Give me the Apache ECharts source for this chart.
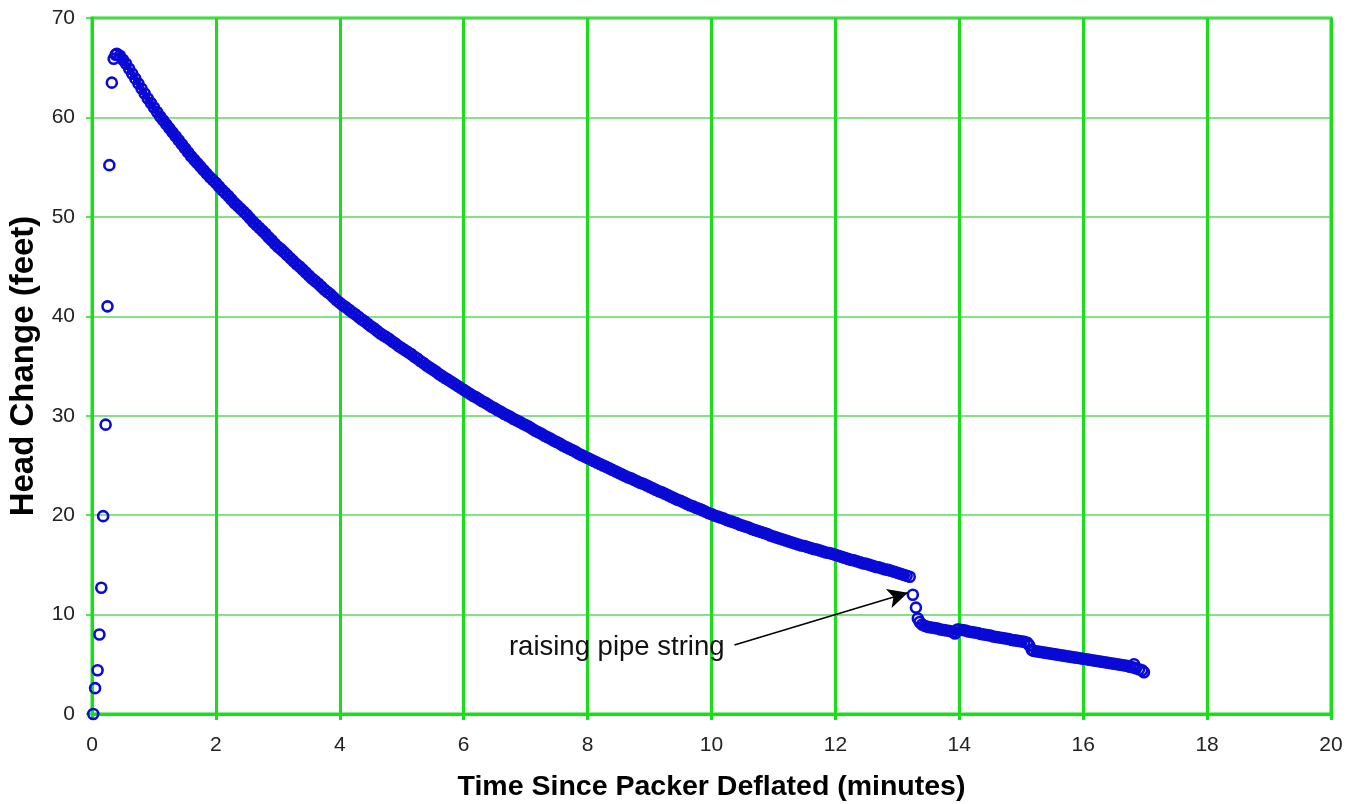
<!DOCTYPE html>
<html>
<head>
<meta charset="utf-8">
<script src="https://cdn.jsdelivr.net/npm/echarts@6/dist/echarts.min.js"></script>
<style>
html,body{margin:0;padding:0;background:#fff;}
#chart{width:1350px;height:804px;}
</style>
</head>
<body>
<div id="chart"></div>
<script>
// ---- Data ----
const xTicks = [0, 2, 4, 6, 8, 10, 12, 14, 16, 18, 20];
const yTicks = [0, 10, 20, 30, 40, 50, 60, 70];

// Rise after packer deflated
const riseTime = [0.02, 0.05, 0.09, 0.12, 0.15, 0.18, 0.22, 0.25, 0.28, 0.32, 0.35, 0.38];
const riseHead = [0.0, 2.6, 4.4, 8.0, 12.7, 19.9, 29.1, 41.0, 55.2, 63.5, 65.9, 66.3];

// Recovery (decline) until pipe string raised
const recoveryTime = [
0.40,0.45,0.50,0.55,0.60,0.65,0.70,0.75,0.80,0.85,0.90,0.95,1.00,1.05,1.10,1.15,1.20,1.25,1.30,1.35,
1.40,1.45,1.50,1.55,1.60,1.65,1.70,1.75,1.80,1.85,1.90,1.95,2.00,2.05,2.10,2.15,2.20,2.25,2.30,2.35,
2.40,2.45,2.50,2.55,2.60,2.65,2.70,2.75,2.80,2.85,2.90,2.95,3.00,3.05,3.10,3.15,3.20,3.25,3.30,3.35,
3.40,3.45,3.50,3.55,3.60,3.65,3.70,3.75,3.80,3.85,3.90,3.95,4.00,4.05,4.10,4.15,4.20,4.25,4.30,4.35,
4.40,4.45,4.50,4.55,4.60,4.65,4.70,4.75,4.80,4.85,4.90,4.95,5.00,5.05,5.10,5.15,5.20,5.25,5.30,5.35,
5.40,5.45,5.50,5.55,5.60,5.65,5.70,5.75,5.80,5.85,5.90,5.95,6.00,6.05,6.10,6.15,6.20,6.25,6.30,6.35,
6.40,6.45,6.50,6.55,6.60,6.65,6.70,6.75,6.80,6.85,6.90,6.95,7.00,7.05,7.10,7.15,7.20,7.25,7.30,7.35,
7.40,7.45,7.50,7.55,7.60,7.65,7.70,7.75,7.80,7.85,7.90,7.95,8.00,8.05,8.10,8.15,8.20,8.25,8.30,8.35,
8.40,8.45,8.50,8.55,8.60,8.65,8.70,8.75,8.80,8.85,8.90,8.95,9.00,9.05,9.10,9.15,9.20,9.25,9.30,9.35,
9.40,9.45,9.50,9.55,9.60,9.65,9.70,9.75,9.80,9.85,9.90,9.95,10.00,10.05,10.10,10.15,10.20,10.25,10.30,10.35,
10.40,10.45,10.50,10.55,10.60,10.65,10.70,10.75,10.80,10.85,10.90,10.95,11.00,11.05,11.10,11.15,11.20,11.25,11.30,11.35,
11.40,11.45,11.50,11.55,11.60,11.65,11.70,11.75,11.80,11.85,11.90,11.95,12.00,12.05,12.10,12.15,12.20,12.25,12.30,12.35,
12.40,12.45,12.50,12.55,12.60,12.65,12.70,12.75,12.80,12.85,12.90,12.95,13.00,13.05,13.10,13.15,13.20
];
const recoveryHead = [
66.4,66.2,65.8,65.4,64.9,64.4,63.9,63.4,62.9,62.4,61.9,61.45,61.0,60.55,60.1,59.7,59.3,58.9,58.5,58.1,
57.7,57.3,56.9,56.5,56.1,55.75,55.4,55.05,54.7,54.35,54.0,53.7,53.4,53.05,52.7,52.4,52.1,51.75,51.4,51.1,
50.8,50.5,50.2,49.85,49.5,49.2,48.9,48.6,48.3,47.95,47.65,47.3,47.0,46.75,46.45,46.15,45.85,45.55,45.25,45.0,
44.7,44.4,44.1,43.8,43.55,43.3,43.0,42.7,42.45,42.2,41.9,41.6,41.35,41.1,40.9,40.65,40.4,40.2,39.95,39.7,
39.5,39.25,39.0,38.8,38.55,38.3,38.1,37.9,37.7,37.45,37.25,37.0,36.8,36.6,36.4,36.2,35.95,35.75,35.5,35.3,
35.05,34.85,34.65,34.45,34.2,34.0,33.8,33.6,33.4,33.2,33.0,32.8,32.6,32.4,32.2,32.0,31.85,31.65,31.45,31.3,
31.1,30.9,30.75,30.55,30.4,30.2,30.05,29.9,29.7,29.55,29.4,29.2,29.05,28.9,28.7,28.5,28.35,28.2,28.0,27.85,
27.7,27.5,27.35,27.2,27.0,26.85,26.7,26.55,26.4,26.2,26.05,25.9,25.75,25.6,25.45,25.3,25.15,25.0,24.85,24.7,
24.55,24.4,24.25,24.1,23.95,23.8,23.7,23.55,23.4,23.25,23.15,23.0,22.85,22.7,22.55,22.4,22.3,22.15,22.0,21.85,
21.7,21.55,21.45,21.3,21.15,21.0,20.9,20.75,20.65,20.5,20.35,20.2,20.1,19.95,19.85,19.75,19.65,19.5,19.4,19.3,
19.2,19.05,18.95,18.85,18.75,18.6,18.5,18.4,18.3,18.2,18.1,17.95,17.85,17.75,17.65,17.55,17.45,17.35,17.25,17.15,
17.05,16.95,16.9,16.8,16.7,16.6,16.55,16.45,16.35,16.25,16.2,16.1,16.0,15.9,15.8,15.7,15.6,15.5,15.45,15.35,
15.25,15.15,15.1,15.0,14.9,14.8,14.75,14.65,14.55,14.5,14.4,14.3,14.2,14.1,14.0,13.9,13.8
];

// After raising pipe string: isolated drop points, then two slow-decline bands
const dropTime = [13.25, 13.30, 13.33];
const dropHead = [12.0, 10.7, 9.6];

const band1Time = [
13.36,13.40,13.45,13.50,13.55,13.60,13.65,13.70,13.75,13.80,13.85,13.90,13.93,13.97,
14.00,14.05,14.10,14.15,14.20,14.25,14.30,14.35,14.40,14.45,14.50,14.55,14.60,14.65,14.70,14.75,14.80,14.85,
14.90,14.95,15.00,15.05,15.10
];
const band1Head = [
9.25,9.0,8.85,8.75,8.7,8.65,8.6,8.5,8.45,8.4,8.35,8.25,8.1,8.5,
8.5,8.45,8.4,8.3,8.25,8.2,8.15,8.05,8.0,7.95,7.9,7.8,7.75,7.7,7.65,7.6,7.55,7.45,
7.4,7.35,7.3,7.25,7.15
];

const stepTime = [15.13];
const stepHead = [6.9];

const band2Time = [
15.17,15.20,15.25,15.30,15.35,15.40,15.45,15.50,15.55,15.60,15.65,15.70,
15.75,15.80,15.85,15.90,15.95,16.00,16.05,16.10,16.15,16.20,16.25,16.30,16.35,16.40,16.45,16.50,16.55,16.60,
16.65,16.70,16.75,16.80
];
const band2Head = [
6.45,6.35,6.3,6.25,6.2,6.15,6.1,6.05,6.0,5.95,5.9,5.85,
5.8,5.75,5.7,5.65,5.6,5.55,5.5,5.45,5.4,5.35,5.3,5.25,5.2,5.15,5.1,5.05,5.0,4.95,
4.9,4.85,4.75,4.7
];

const endTime = [16.82, 16.85, 16.90, 16.95, 16.98];
const endHead = [5.0, 4.6, 4.5, 4.4, 4.2];

const annotationText = 'raising pipe string';
const annotationTextAt = [8.47, 6.72];
const arrowFrom = [10.37, 6.95];
const arrowTo = [13.17, 12.2];

// ---- Build ----
function zip(t, v) { return t.map((x, i) => [x, v[i]]); }
const points = [].concat(
  zip(riseTime, riseHead), zip(recoveryTime, recoveryHead), zip(dropTime, dropHead),
  zip(band1Time, band1Head), zip(stepTime, stepHead), zip(band2Time, band2Head), zip(endTime, endHead)
);

const FONT = '"Liberation Sans", Arial, Helvetica, sans-serif';
const GREEN = '#18e018';
const BLUE = '#0a0ad6';

function bandLine(t, v) {
  return {
    type: 'line', data: zip(t, v), showSymbol: false, symbol: 'none', silent: true,
    lineStyle: { color: BLUE, width: 5.5 }, emphasis: { disabled: true }, z: 2, animation: false
  };
}

const chart = echarts.init(document.getElementById('chart'), null, { renderer: 'canvas' });
chart.setOption({
  animation: false,
  backgroundColor: '#ffffff',
  grid: {
    left: 92, right: 19, top: 18, bottom: 90, containLabel: false, outerBoundsMode: 'none',
    show: true, borderColor: GREEN, borderWidth: 3, backgroundColor: 'transparent'
  },
  xAxis: {
    type: 'value', min: xTicks[0], max: xTicks[xTicks.length - 1], interval: xTicks[1] - xTicks[0],
    name: 'Time Since Packer Deflated (minutes)', nameLocation: 'middle', nameGap: 59,
    nameTextStyle: { fontFamily: FONT, fontSize: 28.5, fontWeight: 'bold', color: '#000' },
    axisLine: { show: true, onZero: false, lineStyle: { color: GREEN, width: 3 } },
    axisTick: { show: true, inside: false, length: 6, lineStyle: { color: GREEN, width: 3 } },
    axisLabel: { fontFamily: FONT, fontSize: 21, color: '#222', margin: 21 },
    splitLine: { show: true, lineStyle: { color: GREEN, width: 3 } }
  },
  yAxis: {
    type: 'value', min: yTicks[0], max: yTicks[yTicks.length - 1], interval: yTicks[1] - yTicks[0],
    name: 'Head Change (feet)', nameLocation: 'middle', nameGap: 48,
    nameTextStyle: { fontFamily: FONT, fontSize: 33, fontWeight: 'bold', color: '#000' },
    axisLine: { show: true, onZero: false, lineStyle: { color: GREEN, width: 3 } },
    axisTick: { show: true, inside: false, length: 6, lineStyle: { color: GREEN, width: 1.5 } },
    axisLabel: { fontFamily: FONT, fontSize: 21, color: '#222', margin: 17 },
    splitLine: { show: true, lineStyle: { color: '#5ad85a', width: 1.5 } }
  },
  series: [
    bandLine(recoveryTime, recoveryHead),
    bandLine(band1Time, band1Head),
    bandLine(band2Time, band2Head),
    {
      type: 'scatter',
      data: points,
      symbol: 'circle',
      symbolSize: 10,
      itemStyle: { color: 'rgba(0,0,0,0)', borderColor: BLUE, borderWidth: 2.6, opacity: 1 },
      emphasis: { disabled: true },
      markLine: {
        silent: true,
        symbol: ['none', 'arrow'],
        symbolSize: [15, 20],
        label: { show: false },
        lineStyle: { color: '#000', width: 1.6, type: 'solid' },
        emphasis: { disabled: true },
        data: [[{ coord: arrowFrom }, { coord: arrowTo }]]
      },
      z: 3
    }
  ]
});

const p = chart.convertToPixel({ gridIndex: 0 }, annotationTextAt);
chart.setOption({
  graphic: [{
    type: 'text', x: p[0], y: p[1], z: 10,
    style: { text: annotationText, fontFamily: FONT, fontSize: 27.5, fill: '#111', align: 'center', verticalAlign: 'middle' }
  }]
});
</script>
</body>
</html>
